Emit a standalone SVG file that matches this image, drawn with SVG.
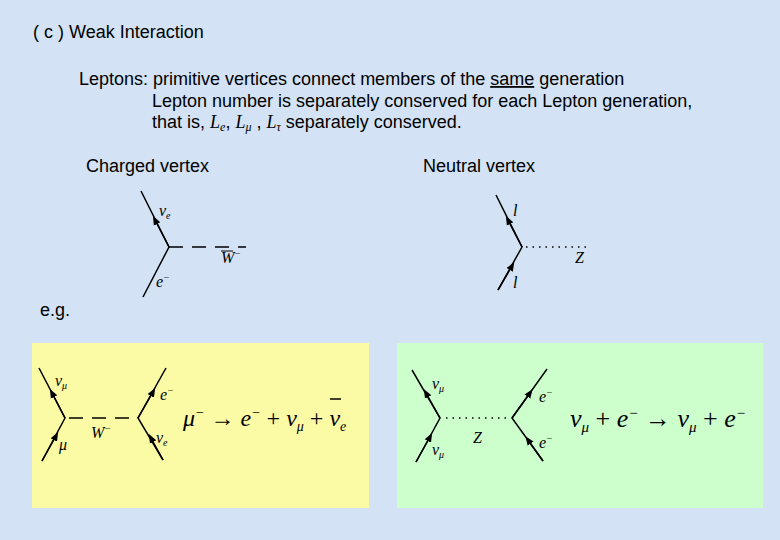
<svg xmlns="http://www.w3.org/2000/svg" width="780" height="540" viewBox="0 0 780 540">
<defs>
<marker id="ar" viewBox="0 0 10 10" refX="5" refY="5" markerWidth="9" markerHeight="9" orient="auto" markerUnits="userSpaceOnUse"><path d="M0,1 L10,5 L0,9 z" fill="#000"/></marker>
</defs>
<style>
.t{font-family:"Liberation Sans",Arial,sans-serif;font-size:18px;fill:#000}
.m{font-family:"Liberation Serif","Times New Roman",serif;font-style:italic;fill:#000}
.l{stroke:#000;stroke-width:1.5;fill:none}
.w{stroke:#000;stroke-width:1.5;stroke-dasharray:14,9;fill:none}
.z{stroke:#000;stroke-width:1.3;stroke-dasharray:1.5,5;fill:none}
</style>
<rect width="780" height="540" fill="#d3e3f5"/>
<text class="t" x="33" y="38">( c ) Weak Interaction</text>
<text class="t" x="79" y="85">Leptons: primitive vertices connect members of the <tspan text-decoration="underline">same</tspan> generation</text>
<text class="t" x="152" y="107">Lepton number is separately conserved for each Lepton generation,</text>
<text class="t" x="152" y="128">that is,  <tspan class="m">L</tspan><tspan class="m" font-size="12" dy="3">e</tspan><tspan dy="-3">,  </tspan><tspan class="m">L</tspan><tspan class="m" font-size="12" dy="3">μ</tspan><tspan dy="-3"> ,  </tspan><tspan class="m">L</tspan><tspan class="m" font-size="12" dy="3">τ</tspan><tspan dy="-3"> separately conserved.</tspan></text>
<text class="t" x="86" y="172">Charged vertex</text>
<text class="t" x="423" y="172">Neutral vertex</text>
<text class="t" x="40" y="316">e.g.</text>
<rect x="32" y="343" width="337" height="165" fill="#fbfba6"/>
<rect x="397" y="343" width="366" height="165" fill="#ccffcc"/>
<g id="connectors">
<path class="l" d="M143,297 L169,247 L141,191"/><path class="l" d="M169,247 L155,220" marker-end="url(#ar)"/>
<path class="w" d="M169,247 L246,247"/>
<path class="l" d="M498,290 L522,247 L496,195"/><path class="l" d="M522,247 L508,220" marker-end="url(#ar)"/><path class="l" d="M498,290 L512,266" marker-end="url(#ar)"/>
<path class="z" d="M526,247 L588,247"/>
<path class="l" d="M42,461 L65,418 L39,368"/><path class="l" d="M65,418 L52,393" marker-end="url(#ar)"/><path class="l" d="M42,461 L56,436" marker-end="url(#ar)"/>
<path class="w" d="M69,418 L135,418"/>
<path class="l" d="M166,368 L138,418 L163,460"/><path class="l" d="M138,418 L153,392" marker-end="url(#ar)"/><path class="l" d="M163,460 L151,438" marker-end="url(#ar)"/>
<path class="z" d="M446,418 L511,418"/>
<path class="l" d="M416,462 L440,418 L412,370"/><path class="l" d="M440,418 L426,393" marker-end="url(#ar)"/><path class="l" d="M416,462 L430,437" marker-end="url(#ar)"/>
<path class="l" d="M547,369 L512,418 L543,461"/><path class="l" d="M512,418 L530,393" marker-end="url(#ar)"/><path class="l" d="M543,461 L528,440" marker-end="url(#ar)"/>
</g>
<g id="charged"><text class="m" x="159" y="216" font-size="16">ν<tspan font-size="10" dy="3">e</tspan></text><text class="m" x="221" y="263" font-size="16">W<tspan font-size="10" dy="-6">−</tspan></text><text class="m" x="156" y="287" font-size="16">e<tspan font-size="10" dy="-6">−</tspan></text><path d="M221,251 h12" stroke="#000"/></g>
<g id="neutral"><text class="m" x="513" y="216" font-size="16">l</text><text class="m" x="513" y="288" font-size="16">l</text><text class="m" x="575" y="263" font-size="16">Z</text></g>
<g id="muon"><text class="m" x="55" y="386" font-size="16">ν<tspan font-size="10" dy="3">μ</tspan></text><text class="m" x="59" y="450" font-size="16">μ</text><text class="m" x="91" y="438" font-size="16">W<tspan font-size="10" dy="-6">−</tspan></text><text class="m" x="160" y="400" font-size="16">e<tspan font-size="10" dy="-6">−</tspan></text><text class="m" x="156" y="443" font-size="16">ν<tspan font-size="10" dy="3">e</tspan></text>
<text class="m" x="183" y="426" font-size="24">μ<tspan font-size="14" dy="-9">−</tspan><tspan dy="9" font-style="normal"> → </tspan>e<tspan font-size="14" dy="-9">−</tspan><tspan dy="9" font-style="normal"> + </tspan>ν<tspan font-size="14" dy="5">μ</tspan><tspan dy="-5" font-style="normal"> + </tspan>ν<tspan font-size="14" dy="5">e</tspan></text>
<path d="M330,399 h11" stroke="#000" stroke-width="1.5"/>
</g>
<g id="scatter"><text class="m" x="432" y="389" font-size="16">ν<tspan font-size="10" dy="3">μ</tspan></text><text class="m" x="432" y="455" font-size="16">ν<tspan font-size="10" dy="3">μ</tspan></text><text class="m" x="473" y="443" font-size="16">Z</text><text class="m" x="539" y="402" font-size="16">e<tspan font-size="10" dy="-6">−</tspan></text><text class="m" x="539" y="448" font-size="16">e<tspan font-size="10" dy="-6">−</tspan></text>
<text class="m" x="570" y="427" font-size="26">ν<tspan font-size="15" dy="5">μ</tspan><tspan dy="-5" font-style="normal"> + </tspan>e<tspan font-size="15" dy="-9">−</tspan><tspan dy="9" font-style="normal"> → </tspan>ν<tspan font-size="15" dy="5">μ</tspan><tspan dy="-5" font-style="normal"> + </tspan>e<tspan font-size="15" dy="-9">−</tspan></text></g>
</svg>
